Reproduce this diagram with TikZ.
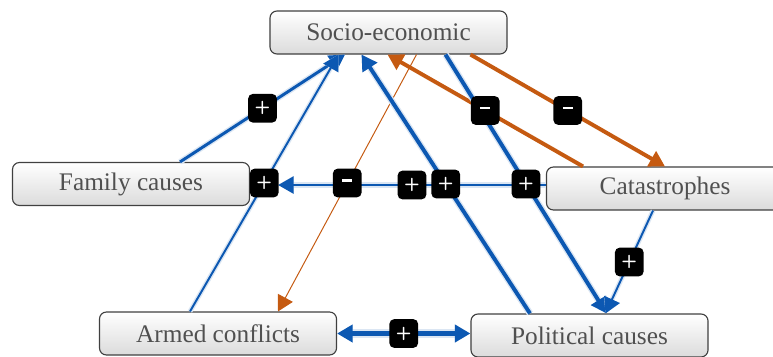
\documentclass[tikz,border=0pt]{standalone}
\usepackage{tikz}
\usepackage{fontspec}
\setmainfont{Liberation Serif}
\usetikzlibrary{arrows.meta,%
                calc}
\definecolor{linkblue}{RGB}{12,88,178}
\definecolor{linkorange}{RGB}{197,90,17}
\definecolor{txtgray}{RGB}{80,80,80}
\newcommand{\minussign}{\rule[0.28em]{7pt}{1.5pt}}
\tikzstyle{factor}=[rectangle, draw=black!75, line width=0.8pt, rounded corners=5pt, top color=white, bottom color=black!14, text=txtgray, minimum width=5.925cm, minimum height=1.075cm, inner sep=0pt, font=\fontsize{18}{20}\selectfont]
\tikzstyle{sign}=[rectangle, fill=black, rounded corners=3.5pt, text=white, minimum size=0.72cm, inner sep=0pt, font=\sffamily\bfseries\fontsize{13}{14}\selectfont]
\tikzset{bluelink/.style={draw=linkblue, line width=#1, -{Triangle[length=11pt,width=12pt]}, preaction={draw=linkblue!15, line width=#1+2pt}},
         orangelink/.style={draw=linkorange, line width=#1, -{Triangle[length=11pt,width=12pt]}}}

\begin{document}
\begin{tikzpicture}[x=0.025cm,y=-0.025cm]
  \useasboundingbox (0,0) rectangle (773,356);
  \begin{scope}
  \clip (0,0) rectangle (773,356);
  \node[factor] (soc) at (388.5,32.5) {Socio-economic};
  \node[factor] (family) at (131,184) {Family causes};
  \node[factor] (armed) at (218,333.5) {Armed conflicts};
  \node[factor] (cata) at (665,188.5) {Catastrophes};
  \node[factor] (politic) at (589.5,335.5) {Political causes};
  \end{scope}
  % orange links
  \draw[orangelink=2.8pt] ($(cata.north)+(-82,0)$) -- coordinate (m1) ($(soc.south)+(-1,0)$);
  \draw[orangelink=2.8pt] ($(soc.south)+(82,0)$) -- coordinate (m2) (cata.north);
  \draw[orangelink=0.7pt] ($(soc.south)+(28,0)$) -- coordinate (m3) ($(armed.north)+(60,0)$);
  % blue links
  \draw[bluelink=2.1pt] ($(family.north)+(49,0)$) -- coordinate (m4) ($(soc.south)+(-43.5,0)$);
  \draw[bluelink=1.4pt] ($(armed.north)+(-28,0)$) -- coordinate (m5) ($(soc.south)+(-50,0)$);
  \draw[bluelink=2.8pt] ($(politic.north)+(-59.5,0)$) -- coordinate (m6) ($(soc.south)+(-27,0)$);
  \draw[bluelink=2.8pt] ($(soc.south)+(57,0)$) -- coordinate (m7) ($(politic.north)+(17,0)$);
  \draw[bluelink=1.4pt] ($(cata.south)+(-12,0)$) -- coordinate (m8) ($(politic.north)+(16,0)$);
  \draw[bluelink=1.8pt] ($(cata.west)+(0,-3.5)$) -- coordinate (m9) ($(family.east)+(28,1)$);
  \draw[bluelink=4pt, {Triangle[length=11pt,width=12pt]}-{Triangle[length=11pt,width=12pt]}] (armed.east) -- coordinate (m10) (armed.east -| politic.west);
  % signs on top
  \foreach \m/\s in {m1/\minussign, m2/\minussign, m3/\minussign, m4/+, m5/+, m6/+, m7/+, m8/+, m9/+, m10/+}
    \node[sign] at (\m) {\s};
\end{tikzpicture}
\end{document}
